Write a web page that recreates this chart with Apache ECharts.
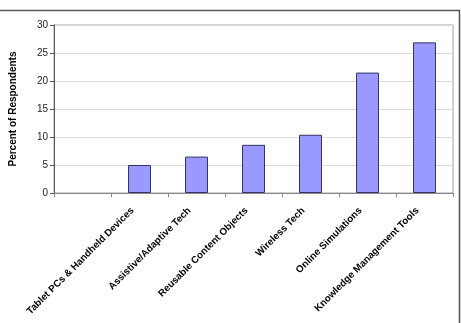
<!DOCTYPE html>
<html>
<head>
<meta charset="utf-8">
<script src="https://cdn.jsdelivr.net/npm/echarts@6/dist/echarts.min.js"></script>
<style>
  html, body { margin: 0; padding: 0; background: #fff; }
  #chart { width: 461px; height: 323px; }
</style>
</head>
<body>
<div id="chart"></div>
<script>
// data (first category is empty)
var categories = ['', 'Tablet PCs & Handheld Devices', 'Assistive/Adaptive Tech', 'Reusable Content Objects',
  'Wireless Tech', 'Online Simulations', 'Knowledge Management Tools'];
var percents = [null, 5.0, 6.5, 8.6, 10.4, 21.5, 26.9];
var yTicks = [0, 5, 10, 15, 20, 25, 30];

var chartDom = document.getElementById('chart');
var myChart = echarts.init(chartDom, null, { renderer: 'canvas' });
var option;

option = {
  animation: false,
  backgroundColor: '#fff',
  graphic: [
    {
      // chart area frame (only top and right edges are visible)
      type: 'rect',
      shape: { x: -5, y: 10.5, width: 464.5, height: 330 },
      style: { fill: 'none', stroke: '#555', lineWidth: 1.5 },
      silent: true
    }
  ],
  grid: {
    left: 53,
    right: 8,
    top: 25,
    bottom: 130,
    show: true,
    borderColor: '#a0a0a0',
    borderWidth: 1
  },
  xAxis: {
    type: 'category',
    data: categories,
    axisLine: { lineStyle: { color: '#888', width: 1 } },
    axisTick: { show: true, alignWithLabel: false, length: 4, lineStyle: { color: '#888' } },
    axisLabel: {
      interval: 0,
      rotate: 45,
      margin: 9,
      padding: [0, 10, 0, 0],
      fontFamily: 'Liberation Sans, Arial, sans-serif',
      fontWeight: 'bold',
      fontSize: 9.8,
      color: '#000'
    }
  },
  yAxis: {
    type: 'value',
    min: yTicks[0],
    max: yTicks[yTicks.length - 1],
    interval: 5,
    name: 'Percent of Respondents',
    nameLocation: 'middle',
    nameGap: 36,
    nameTextStyle: {
      fontFamily: 'Liberation Sans, Arial, sans-serif',
      fontWeight: 'bold',
      fontSize: 10,
      color: '#000'
    },
    axisLine: { show: true, lineStyle: { color: '#555', width: 1 } },
    axisTick: { show: true, length: 4, lineStyle: { color: '#555' } },
    axisLabel: {
      margin: 6,
      fontFamily: 'Liberation Sans, Arial, sans-serif',
      fontSize: 10,
      color: '#222'
    },
    splitLine: { lineStyle: { color: '#dcdcdc', width: 1 } }
  },
  series: [
    {
      type: 'bar',
      data: percents,
      barWidth: 23,
      itemStyle: {
        color: '#9999ff',
        borderColor: '#333366',
        borderWidth: 1
      }
    }
  ]
};

if (option && typeof option === 'object') {
  myChart.setOption(option);
}
</script>
</body>
</html>
